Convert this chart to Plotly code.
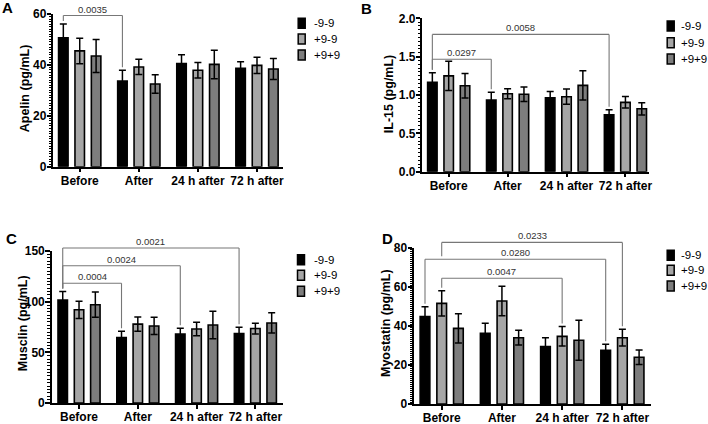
import plotly.graph_objects as go

W, H = 708, 424
FONT = "Liberation Sans"

# ---------------- data ----------------
categories = ["Before", "After", "24 h after", "72 h after"]
groups = ["-9-9", "+9-9", "+9+9"]

# A: Apelin (pg/mL)
apelin_m9m9 = [50.6, 33.7, 40.5, 38.7]
apelin_p9m9 = [45.5, 39.2, 37.9, 39.8]
apelin_p9p9 = [43.5, 32.5, 40.2, 38.4]
apelin_m9m9_err = [5.5, 4.2, 3.5, 2.5]
apelin_p9m9_err = [5.0, 3.0, 3.0, 3.2]
apelin_p9p9_err = [6.5, 3.6, 5.6, 4.1]

# B: IL-15 (pg/mL)
il15_m9m9 = [1.165, 0.935, 0.965, 0.743]
il15_p9m9 = [1.25, 1.017, 0.978, 0.904]
il15_p9p9 = [1.12, 1.01, 1.126, 0.82]
il15_m9m9_err = [0.125, 0.10, 0.08, 0.065]
il15_p9m9_err = [0.19, 0.065, 0.10, 0.075]
il15_p9p9_err = [0.16, 0.095, 0.19, 0.08]

# C: Musclin (pg/mL)
musclin_m9m9 = [101.5, 64.5, 68.0, 68.5]
musclin_p9m9 = [92.0, 77.8, 73.0, 73.5]
musclin_p9p9 = [97.0, 76.0, 77.0, 79.0]
musclin_m9m9_err = [8.5, 6.3, 5.7, 6.3]
musclin_p9m9_err = [8.5, 7.0, 6.6, 5.3]
musclin_p9p9_err = [12.5, 8.5, 13.5, 10.0]

# D: Myostatin (pg/mL)
myostatin_m9m9 = [44.8, 36.3, 29.4, 27.6]
myostatin_p9m9 = [51.6, 52.8, 34.7, 34.0]
myostatin_p9p9 = [38.8, 34.0, 32.7, 24.0]
myostatin_m9m9_err = [5.1, 5.1, 4.6, 3.0]
myostatin_p9m9_err = [6.5, 7.6, 5.0, 4.3]
myostatin_p9p9_err = [7.5, 3.8, 10.3, 3.7]

# p-value comparisons: (label, (category index, group index), (category index, group index))
pvals_A = [("0.0035", (0, 0), (1, 0))]
pvals_B = [("0.0058", (0, 0), (3, 0)), ("0.0297", (0, 0), (1, 0))]
pvals_C = [("0.0021", (0, 0), (3, 0)), ("0.0024", (0, 0), (2, 0)), ("0.0004", (0, 0), (1, 0))]
pvals_D = [("0.0233", (0, 1), (3, 1)), ("0.0280", (0, 0), (3, 0)), ("0.0047", (0, 1), (2, 1))]

# ---------------- style / layout ----------------
colors = ["#000000", "#a6a6a6", "#7d7d7d"]
BARGAP = 0.168
BARGROUPGAP = 0.42

panels = [
    dict(letter="A", title="Apelin (pg/mL)",
         means=[apelin_m9m9, apelin_p9m9, apelin_p9p9],
         errs=[apelin_m9m9_err, apelin_p9m9_err, apelin_p9p9_err],
         ymax=60, dtick=20, minor=1, fmt="d", pvals=pvals_A, levels=[0.99],
         box=(53.3, 283.0, 14.0, 166.7), xr=[-0.447, 3.44],
         ytitle=(25.2, 88), lettpos=(7.5, 8), leg=(301.7, 312, [23.3, 39.0, 55.0])),
    dict(letter="B", title="IL-15 (pg/mL)",
         means=[il15_m9m9, il15_p9m9, il15_p9p9],
         errs=[il15_m9m9_err, il15_p9m9_err, il15_p9p9_err],
         ymax=2.0, dtick=0.5, minor=0.05, fmt=".1f", pvals=pvals_B, levels=[0.895, 0.733],
         box=(422.3, 649.0, 18.3, 171.7), xr=[-0.448, 3.40],
         ytitle=(389.2, 94), lettpos=(366.5, 8.7), leg=(670.7, 679, [26.0, 42.7, 59.0])),
    dict(letter="C", title="Musclin (pg/mL)",
         means=[musclin_m9m9, musclin_p9m9, musclin_p9p9],
         errs=[musclin_m9m9_err, musclin_p9m9_err, musclin_p9p9_err],
         ymax=150, dtick=50, minor=50 / 15, fmt="d", pvals=pvals_C, levels=[1.02, 0.903, 0.788],
         box=(51.7, 283.0, 251.0, 403.0), xr=[-0.465, 3.47],
         ytitle=(23.2, 323), lettpos=(11, 239), leg=(301.0, 311.7, [259.7, 275.3, 291.3])),
    dict(letter="D", title="Myostatin (pg/mL)",
         means=[myostatin_m9m9, myostatin_p9m9, myostatin_p9p9],
         errs=[myostatin_m9m9_err, myostatin_p9m9_err, myostatin_p9p9_err],
         ymax=80, dtick=20, minor=1, fmt="d", pvals=pvals_D, levels=[1.036, 0.928, 0.806],
         box=(414.0, 650.7, 248.0, 404.0), xr=[-0.46, 3.47],
         ytitle=(386.0, 323), lettpos=(387.5, 239), leg=(670.7, 679, [255.3, 270.3, 286.0])),
]


def px(xp):
    return xp / W


def py(yp):
    return 1 - yp / H


fig = go.Figure()
layout = dict(
    width=W, height=H, margin=dict(l=0, r=0, t=0, b=0),
    paper_bgcolor="white", plot_bgcolor="white",
    barmode="group", bargap=BARGAP, bargroupgap=BARGROUPGAP,
    showlegend=False, template="none",
    font=dict(family=FONT, color="black"),
)
shapes = []
annotations = []

slot = (1 - BARGAP) / len(groups)

for i, p in enumerate(panels):
    s = "" if i == 0 else str(i + 1)
    xa, ya = "x" + s, "y" + s
    left, right, top, bottom = p["box"]
    for k, g in enumerate(groups):
        fig.add_trace(go.Bar(
            x=categories, y=p["means"][k], name=g,
            marker=dict(color=colors[k], line=dict(color="black", width=1.6)),
            error_y=dict(type="data", array=p["errs"][k], color="black",
                         thickness=1.5, width=3.5),
            xaxis=xa, yaxis=ya, showlegend=False,
        ))
    layout["xaxis" + s] = dict(
        domain=[px(left), px(right)], anchor=ya, type="category",
        range=p["xr"], showline=True, linewidth=2, linecolor="black",
        ticks="outside", ticklen=3.5, tickwidth=1.5, tickcolor="black",
        ticklabelstandoff=-2,
        showgrid=False, zeroline=False, fixedrange=True,
        tickfont=dict(family=FONT, size=12, color="black", weight="bold"),
    )
    layout["yaxis" + s] = dict(
        domain=[py(bottom), py(top)], anchor=xa, range=[0, p["ymax"]],
        tick0=0, dtick=p["dtick"], tickformat=p["fmt"],
        showline=True, linewidth=2, linecolor="black",
        ticks="outside", ticklen=4.5, tickwidth=1.5, tickcolor="black",
        ticklabelstandoff=-2,
        minor=dict(dtick=p["minor"], tick0=0, ticks="outside", ticklen=2.5,
                   tickwidth=1, tickcolor="black", showgrid=False),
        showgrid=False, zeroline=False, fixedrange=True,
        tickfont=dict(family=FONT, size=12, color="black", weight="bold"),
    )

    # y title
    annotations.append(dict(
        text=p["title"], textangle=-90, xref="paper", yref="paper",
        x=px(p["ytitle"][0]), y=py(p["ytitle"][1]), xanchor="center", yanchor="middle",
        showarrow=False, font=dict(family=FONT, size=12.5, color="black", weight="bold"),
    ))
    # panel letter
    annotations.append(dict(
        text=p["letter"], xref="paper", yref="paper",
        x=px(p["lettpos"][0]), y=py(p["lettpos"][1]), xanchor="center", yanchor="middle",
        showarrow=False, font=dict(family=FONT, size=15, color="black", weight="bold"),
    ))
    # legend
    lx, tx, rows = p["leg"]
    for k, g in enumerate(groups):
        cy = rows[k]
        shapes.append(dict(
            type="rect", xref="paper", yref="paper",
            x0=px(lx - 3.5), x1=px(lx + 3.5), y0=py(cy + 5), y1=py(cy - 5),
            fillcolor=colors[k], line=dict(color="black", width=1.5),
        ))
        annotations.append(dict(
            text=g, xref="paper", yref="paper", x=px(tx), y=py(cy),
            xanchor="left", yanchor="middle", showarrow=False,
            font=dict(family=FONT, size=11.5, color="black"),
        ))

    # significance brackets
    ymax = p["ymax"]
    gap = 3.0 / (bottom - top)
    dom = ya + " domain"

    def xpos(ci, gk):
        return ci + (gk - (len(groups) - 1) / 2) * slot

    def bar_top(ci, gk):
        return (p["means"][gk][ci] + p["errs"][gk][ci]) / ymax

    br = []
    for (lab, (c1, g1), (c2, g2)), lev in zip(p["pvals"], p["levels"]):
        br.append(dict(lab=lab, xl=xpos(c1, g1), xr=xpos(c2, g2),
                       bl=bar_top(c1, g1), brr=bar_top(c2, g2), top=lev))

    def leg_bottom(x, t, base, me):
        cands = [base + gap]
        for o in br:
            if o is me:
                continue
            if o["top"] < t and o["xl"] + 1e-6 < x < o["xr"] - 1e-6:
                cands.append(o["top"] + gap)
        return max(cands)

    for b in br:
        lb = leg_bottom(b["xl"], b["top"], b["bl"], b)
        rb = leg_bottom(b["xr"], b["top"], b["brr"], b)
        line = dict(color="#777777", width=1.1)
        for (x0, y0, x1, y1) in [(b["xl"], lb, b["xl"], b["top"]),
                                 (b["xl"], b["top"], b["xr"], b["top"]),
                                 (b["xr"], b["top"], b["xr"], rb)]:
            shapes.append(dict(type="line", xref=xa, yref=dom,
                               x0=x0, y0=y0, x1=x1, y1=y1, line=line))
        annotations.append(dict(
            text=b["lab"], xref=xa, yref=dom, x=(b["xl"] + b["xr"]) / 2, y=b["top"],
            xanchor="center", yanchor="bottom", yshift=-1, showarrow=False,
            font=dict(family=FONT, size=9.5, color="#333333"),
        ))

layout["shapes"] = shapes
layout["annotations"] = annotations
fig.update_layout(**layout)
fig.write_html("out.html", config={"displayModeBar": False},
               post_script="document.body.style.margin='0';document.body.style.overflow='hidden';")
